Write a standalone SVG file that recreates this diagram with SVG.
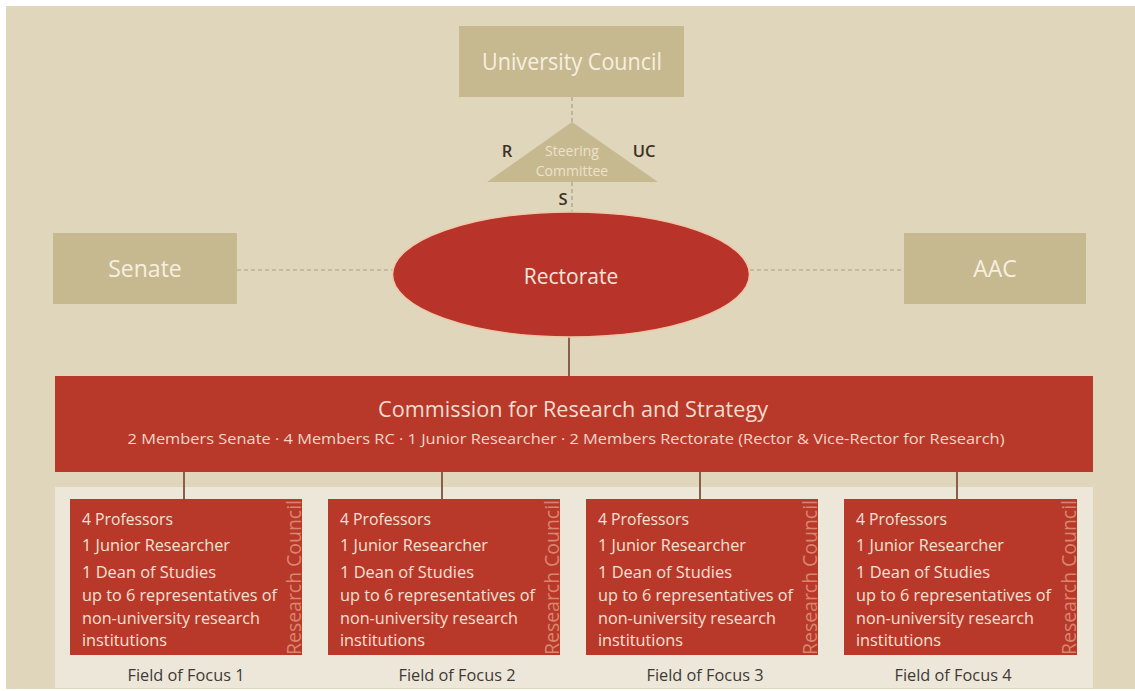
<svg xmlns="http://www.w3.org/2000/svg" width="1135" height="691" viewBox="0 0 1135 691">
  <style>
    text { font-family: "Open Sans", "Noto Sans", "Liberation Sans", sans-serif; }
    .tan { fill: #c7b98f; }
    .tanText { fill: #f6efe0; font-size: 23px; text-anchor: middle; }
    .red { fill: #b8392a; }
    .dash { stroke: #aaa08a; stroke-width: 1.2; stroke-dasharray: 4 3; fill: none; }
    .solid { stroke: #8b5e4b; stroke-width: 2; fill: none; }
    .lbl { fill: #3a3126; font-size: 16.5px; font-weight: 600; text-anchor: middle; }
    .steer { fill: #ece2cb; font-size: 14px; text-anchor: middle; }
    .field { fill: #f5e0d4; font-size: 16px; }
    .rc { fill: #d9856f; font-size: 20px; }
    .foc { fill: #3f3a35; font-size: 16px; text-anchor: middle; }
  </style>

  <!-- page -->
  <rect x="0" y="0" width="1135" height="691" fill="#ffffff"/>
  <rect x="6" y="6" width="1129" height="683" fill="#e0d6bc"/>
  <!-- light panel behind the research councils -->
  <rect x="55" y="487" width="1038" height="201" fill="#ede7da"/>

  <!-- connectors -->
  <g id="connectors">
    <line class="dash" x1="572" y1="97" x2="572" y2="122"/>
    <line class="dash" x1="572" y1="182" x2="572" y2="212"/>
    <line class="dash" x1="237" y1="270" x2="393" y2="270"/>
    <line class="dash" x1="750" y1="270" x2="904" y2="270"/>
    <line class="solid" x1="569" y1="337" x2="569" y2="376"/>
    <line class="solid" x1="184" y1="472" x2="184" y2="499"/>
    <line class="solid" x1="442" y1="472" x2="442" y2="499"/>
    <line class="solid" x1="700" y1="472" x2="700" y2="499"/>
    <line class="solid" x1="957" y1="472" x2="957" y2="499"/>
  </g>

  <g id="university-council">
    <rect class="tan" x="459" y="26" width="225" height="71"/>
    <text class="tanText" x="572" y="70" textLength="180" lengthAdjust="spacingAndGlyphs">University Council</text>
  </g>

  <g id="steering-committee">
    <polygon class="tan" points="572,122 658,182 487,182"/>
    <text class="steer" x="572" y="156">Steering</text>
    <text class="steer" x="572" y="176">Committee</text>
    <text class="lbl" x="507" y="157">R</text>
    <text class="lbl" x="644" y="157">UC</text>
    <text class="lbl" x="563" y="205">S</text>
  </g>

  <g id="senate">
    <rect class="tan" x="53" y="233" width="184" height="71"/>
    <text class="tanText" x="145" y="277">Senate</text>
  </g>

  <g id="aac">
    <rect class="tan" x="904" y="233" width="182" height="71"/>
    <text class="tanText" x="995" y="277" font-size="21">AAC</text>
  </g>

  <g id="rectorate">
    <ellipse cx="571" cy="274.5" rx="178.5" ry="62.5" fill="#b8342a" stroke="#f1c7a8" stroke-width="1.5"/>
    <text x="571" y="284" fill="#f7e6da" font-size="21" text-anchor="middle">Rectorate</text>
  </g>

  <g id="commission">
    <rect class="red" x="55" y="376" width="1038" height="96"/>
    <text x="573" y="417" fill="#f6ddd0" font-size="21" text-anchor="middle" textLength="390" lengthAdjust="spacingAndGlyphs">Commission for Research and Strategy</text>
    <text x="566" y="444" fill="#f3d6c8" font-size="14.5" text-anchor="middle" textLength="877" lengthAdjust="spacingAndGlyphs">2 Members Senate · 4 Members RC · 1 Junior Researcher · 2 Members Rectorate (Rector &amp; Vice-Rector for Research)</text>
  </g>

  <g id="field-1">
    <rect class="red" x="70" y="499" width="232" height="156"/>
    <text class="field" x="82" y="525" textLength="91" lengthAdjust="spacingAndGlyphs">4 Professors</text>
    <text class="field" x="82" y="551" textLength="148" lengthAdjust="spacingAndGlyphs">1 Junior Researcher</text>
    <text class="field" x="82" y="578" textLength="134" lengthAdjust="spacingAndGlyphs">1 Dean of Studies</text>
    <text class="field" x="82" y="601" textLength="195" lengthAdjust="spacingAndGlyphs">up to 6 representatives of</text>
    <text class="field" x="82" y="624" textLength="178" lengthAdjust="spacingAndGlyphs">non-university research</text>
    <text class="field" x="82" y="646" textLength="85" lengthAdjust="spacingAndGlyphs">institutions</text>
    <text class="rc" transform="translate(301 655) rotate(-90)" textLength="155" lengthAdjust="spacingAndGlyphs">Research Council</text>
    <text class="foc" x="186" y="681" textLength="117" lengthAdjust="spacingAndGlyphs">Field of Focus 1</text>
  </g>

  <g id="field-2">
    <rect class="red" x="328" y="499" width="232" height="156"/>
    <text class="field" x="340" y="525" textLength="91" lengthAdjust="spacingAndGlyphs">4 Professors</text>
    <text class="field" x="340" y="551" textLength="148" lengthAdjust="spacingAndGlyphs">1 Junior Researcher</text>
    <text class="field" x="340" y="578" textLength="134" lengthAdjust="spacingAndGlyphs">1 Dean of Studies</text>
    <text class="field" x="340" y="601" textLength="195" lengthAdjust="spacingAndGlyphs">up to 6 representatives of</text>
    <text class="field" x="340" y="624" textLength="178" lengthAdjust="spacingAndGlyphs">non-university research</text>
    <text class="field" x="340" y="646" textLength="85" lengthAdjust="spacingAndGlyphs">institutions</text>
    <text class="rc" transform="translate(559 655) rotate(-90)" textLength="155" lengthAdjust="spacingAndGlyphs">Research Council</text>
    <text class="foc" x="457" y="681" textLength="117" lengthAdjust="spacingAndGlyphs">Field of Focus 2</text>
  </g>

  <g id="field-3">
    <rect class="red" x="586" y="499" width="232" height="156"/>
    <text class="field" x="598" y="525" textLength="91" lengthAdjust="spacingAndGlyphs">4 Professors</text>
    <text class="field" x="598" y="551" textLength="148" lengthAdjust="spacingAndGlyphs">1 Junior Researcher</text>
    <text class="field" x="598" y="578" textLength="134" lengthAdjust="spacingAndGlyphs">1 Dean of Studies</text>
    <text class="field" x="598" y="601" textLength="195" lengthAdjust="spacingAndGlyphs">up to 6 representatives of</text>
    <text class="field" x="598" y="624" textLength="178" lengthAdjust="spacingAndGlyphs">non-university research</text>
    <text class="field" x="598" y="646" textLength="85" lengthAdjust="spacingAndGlyphs">institutions</text>
    <text class="rc" transform="translate(817 655) rotate(-90)" textLength="155" lengthAdjust="spacingAndGlyphs">Research Council</text>
    <text class="foc" x="705" y="681" textLength="117" lengthAdjust="spacingAndGlyphs">Field of Focus 3</text>
  </g>

  <g id="field-4">
    <rect class="red" x="844" y="499" width="233" height="156"/>
    <text class="field" x="856" y="525" textLength="91" lengthAdjust="spacingAndGlyphs">4 Professors</text>
    <text class="field" x="856" y="551" textLength="148" lengthAdjust="spacingAndGlyphs">1 Junior Researcher</text>
    <text class="field" x="856" y="578" textLength="134" lengthAdjust="spacingAndGlyphs">1 Dean of Studies</text>
    <text class="field" x="856" y="601" textLength="195" lengthAdjust="spacingAndGlyphs">up to 6 representatives of</text>
    <text class="field" x="856" y="624" textLength="178" lengthAdjust="spacingAndGlyphs">non-university research</text>
    <text class="field" x="856" y="646" textLength="85" lengthAdjust="spacingAndGlyphs">institutions</text>
    <text class="rc" transform="translate(1076 655) rotate(-90)" textLength="155" lengthAdjust="spacingAndGlyphs">Research Council</text>
    <text class="foc" x="953" y="681" textLength="117" lengthAdjust="spacingAndGlyphs">Field of Focus 4</text>
  </g>
</svg>
